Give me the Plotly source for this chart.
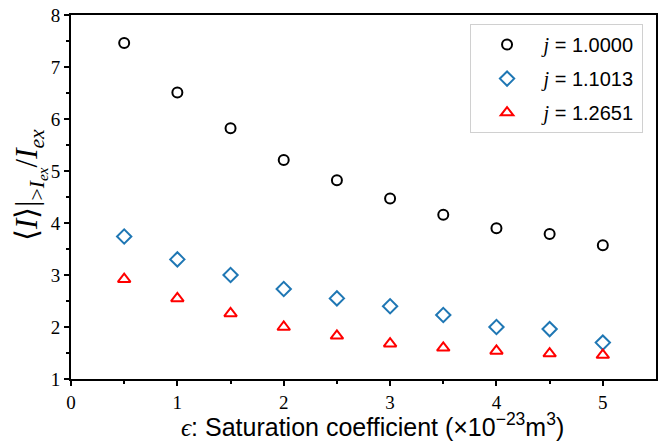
import plotly.graph_objects as go

eps = [0.5, 1.0, 1.5, 2.0, 2.5, 3.0, 3.5, 4.0, 4.5, 5.0]
j_100 = [7.46, 6.51, 5.82, 5.21, 4.82, 4.47, 4.16, 3.90, 3.79, 3.57]
j_110 = [3.74, 3.30, 3.00, 2.73, 2.55, 2.40, 2.23, 2.00, 1.96, 1.70]
j_127 = [2.92, 2.55, 2.26, 2.00, 1.83, 1.68, 1.60, 1.54, 1.49, 1.46]
labels = ["1.0000", "1.1013", "1.2651"]
x_ticks = [0, 1, 2, 3, 4, 5]
y_ticks = [1, 2, 3, 4, 5, 6, 7, 8]

SERIF = "Liberation Serif"
SANS = "Liberation Sans"

series = [
    (j_100, labels[0], "circle-open", "black", 10),
    (j_110, labels[1], "diamond-open", "#1f77b4", 11),
    (j_127, labels[2], "triangle-up-open", "red", 11),
]

fig = go.Figure()
for i, (ys, lab, sym, col, sz) in enumerate(series):
    fig.add_trace(go.Scatter(
        x=eps, y=ys, mode="markers",
        name=f"<span style='font-family:{SERIF}'><i>j</i></span> = {lab}",
        legendgroup=f"g{i}",
        marker=dict(symbol=sym, size=sz, color=col, line=dict(width=2, color=col)),
    ))

fig.update_layout(
    width=659, height=446,
    margin=dict(l=71, r=3, t=15, b=67),
    plot_bgcolor="white", paper_bgcolor="white",
    font=dict(family=SERIF, size=19, color="black"),
    showlegend=True,
    legend=dict(
        x=0.977, y=0.975, xanchor="right", yanchor="top",
        bgcolor="white", bordercolor="#d0d0d0", borderwidth=1,
        font=dict(family=SANS, size=20, color="black"),
        tracegroupgap=5, traceorder="grouped", itemwidth=63,
    ),
    annotations=[
        dict(
            text=f"<span style='font-family:{SERIF}'><i>ϵ</i></span>: Saturation coefficient (×10<sup>−23</sup>m<sup>3</sup>)",
            xref="paper", yref="paper", x=0.516, y=0, yshift=-46,
            xanchor="center", yanchor="middle", showarrow=False,
            font=dict(family=SANS, size=25, color="black"),
        ),
        dict(
            text="⟨<i>I</i>⟩|<sub>&gt;<i>I<sub>ex</sub></i></sub>/<i>I<sub>ex</sub></i>",
            xref="paper", yref="paper", x=0, xshift=-41, y=0.533,
            xanchor="center", yanchor="middle", showarrow=False, textangle=-90,
            font=dict(family=SERIF, size=31, color="black"),
        ),
    ],
)

fig.update_xaxes(
    range=[0, 5.5], tickvals=x_ticks, automargin=False,
    ticks="outside", ticklen=5, tickwidth=1.5, tickcolor="black",
    minor=dict(tickvals=[0.5, 1.5, 2.5, 3.5, 4.5], ticks="outside", ticklen=3, tickwidth=1.5, tickcolor="black"),
    showline=True, linecolor="black", linewidth=2, mirror=True,
    showgrid=False, zeroline=False,
    tickfont=dict(family=SERIF, size=19),
)
fig.update_yaxes(
    range=[1, 8], tickvals=y_ticks, automargin=False,
    ticks="outside", ticklen=5, tickwidth=1.5, tickcolor="black",
    minor=dict(tickvals=[1.5, 2.5, 3.5, 4.5, 5.5, 6.5, 7.5], ticks="outside", ticklen=3, tickwidth=1.5, tickcolor="black"),
    showline=True, linecolor="black", linewidth=2, mirror=True,
    showgrid=False, zeroline=False,
    tickfont=dict(family=SERIF, size=19),
)

fig.write_html(
    "out.html",
    config={"displayModeBar": False},
    post_script="document.body.style.margin='0';document.body.style.padding='0';",
)
